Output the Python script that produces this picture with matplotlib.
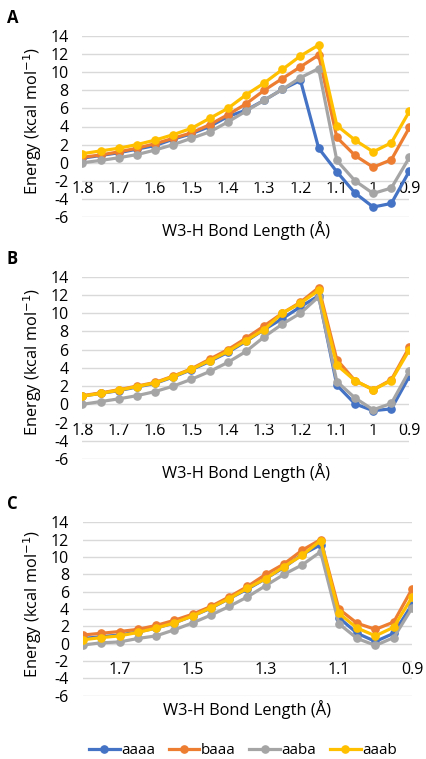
import matplotlib
matplotlib.use('Agg')
import matplotlib.pyplot as plt
import numpy as np

plt.rcParams['font.family'] = ['Open Sans', 'DejaVu Sans']

# bond length points (shared by all panels)
bond_len = [1.8, 1.75, 1.7, 1.65, 1.6, 1.55, 1.5, 1.45, 1.4, 1.35, 1.3, 1.25, 1.2,
            1.15, 1.1, 1.05, 1.0, 0.95, 0.9]

series_names = ['aaaa', 'baaa', 'aaba', 'aaab']
colors = ['#4472C4', '#ED7D31', '#A5A5A5', '#FFC000']

# panel A
a_aaaa = [0.5, 0.8, 1.1, 1.5, 1.9, 2.6, 3.2, 4.0, 5.1, 5.8, 6.9, 8.1, 9.1, 1.6, -1.0, -3.35, -4.9, -4.5, -0.9]
a_baaa = [0.6, 0.85, 1.2, 1.6, 2.1, 2.7, 3.3, 4.2, 5.3, 6.5, 8.0, 9.3, 10.6, 11.9, 2.8, 0.8, -0.5, 0.33, 3.9]
a_aaba = [0.0, 0.25, 0.55, 0.9, 1.4, 2.0, 2.7, 3.4, 4.5, 5.7, 6.9, 8.1, 9.4, 10.4, 0.25, -2.0, -3.4, -2.8, 0.6]
a_aaab = [1.0, 1.3, 1.6, 2.0, 2.5, 3.1, 3.8, 4.9, 6.0, 7.5, 8.8, 10.3, 11.8, 13.0, 4.1, 2.5, 1.2, 2.2, 5.7]

# panel B
b_aaaa = [0.9, 1.2, 1.5, 1.9, 2.3, 3.0, 3.8, 4.7, 5.7, 6.9, 8.2, 9.4, 10.7, 11.9, 2.1, 0.05, -0.7, -0.5, 3.1]
b_baaa = [0.95, 1.25, 1.6, 2.0, 2.4, 3.1, 3.9, 4.95, 6.0, 7.25, 8.6, 10.0, 11.2, 12.8, 4.9, 2.6, 1.6, 2.7, 6.3]
b_aaba = [0.0, 0.3, 0.6, 0.95, 1.4, 2.0, 2.75, 3.6, 4.6, 5.8, 7.4, 8.8, 10.0, 11.8, 2.5, 0.7, -0.6, 0.1, 3.7]
b_aaab = [0.9, 1.2, 1.55, 1.95, 2.35, 3.05, 3.85, 4.8, 5.8, 7.0, 8.2, 10.0, 11.1, 12.5, 4.3, 2.6, 1.6, 2.6, 6.0]

# panel C
c_aaaa = [0.6, 0.8, 1.0, 1.35, 1.8, 2.4, 3.2, 4.1, 5.2, 6.3, 7.5, 8.8, 10.3, 11.4, 3.0, 1.2, 0.25, 1.2, 4.5]
c_baaa = [1.0, 1.2, 1.4, 1.65, 2.1, 2.7, 3.4, 4.3, 5.4, 6.6, 8.0, 9.2, 10.8, 12.0, 4.0, 2.35, 1.65, 2.5, 6.3]
c_aaba = [-0.15, 0.1, 0.2, 0.6, 0.9, 1.6, 2.4, 3.3, 4.3, 5.4, 6.7, 8.0, 9.1, 10.6, 2.3, 0.6, -0.2, 0.7, 4.1]
c_aaab = [0.45, 0.7, 0.9, 1.3, 1.8, 2.4, 3.2, 4.15, 5.2, 6.4, 7.5, 8.9, 10.2, 11.9, 3.5, 1.8, 0.9, 1.9, 5.35]

ab_ticks = [1.8, 1.7, 1.6, 1.5, 1.4, 1.3, 1.2, 1.1, 1.0, 0.9]
ab_ticklabels = ['1.8', '1.7', '1.6', '1.5', '1.4', '1.3', '1.2', '1.1', '1', '0.9']
c_ticks = [1.7, 1.5, 1.3, 1.1, 0.9]
c_ticklabels = ['1.7', '1.5', '1.3', '1.1', '0.9']
y_ticks = list(range(-6, 15, 2))

W, H = 427, 759
fig = plt.figure(figsize=(W / 100, H / 100), dpi=100)

# axes boxes in pixels: left, right, top(14), bottom(-6)
boxes = [(82.5, 409.5, 36, 217), (82.5, 409.5, 276.7, 459), (83, 412, 522.3, 695.7)]
panels = [
    ('A', [a_aaaa, a_baaa, a_aaba, a_aaab], ab_ticks, ab_ticklabels),
    ('B', [b_aaaa, b_baaa, b_aaba, b_aaab], ab_ticks, ab_ticklabels),
    ('C', [c_aaaa, c_baaa, c_aaba, c_aaab], c_ticks, c_ticklabels),
]

for (l, r, t, b), (letter, data, xt, xtl) in zip(boxes, panels):
    ax = fig.add_axes([l / W, 1 - b / H, (r - l) / W, (b - t) / H])
    for vals, name, col in zip(data, series_names, colors):
        ax.plot(bond_len, vals, color=col, lw=2.3, marker='o', ms=5.2,
                label=name, solid_joinstyle='round', zorder=3)
    ax.set_xlim(1.8, 0.9)
    ax.set_ylim(-6, 14)
    ax.set_yticks(y_ticks)
    ax.set_yticklabels([str(v) for v in y_ticks])
    ax.set_xticks(xt)
    ax.set_xticklabels(xtl)
    ax.grid(axis='y', color='#D9D9D9', lw=1.0, zorder=0)
    for s in ax.spines.values():
        s.set_visible(False)
    ax.spines['bottom'].set_position(('data', -2))
    ax.tick_params(axis='both', length=0, labelsize=11.5, colors='#000000')
    ax.tick_params(axis='y', pad=10)
    ax.tick_params(axis='x', pad=0.5)
    h = b - t
    ax.text(0.5, -(13.5 / h), 'W3-H Bond Length (Å)', transform=ax.transAxes,
            ha='center', va='center', fontsize=11.8)
    ax.text(-(l - 33) / (r - l), 0.53, 'Energy (kcal mol$^{-1}$)', transform=ax.transAxes,
            rotation=90, ha='center', va='center', fontsize=11.8)
    fig.text(7 / W, 1 - (t - 18) / H, letter, fontsize=12, fontweight='bold',
             ha='left', va='center')

handles, labels = ax.get_legend_handles_labels()
fig.legend(handles, labels, loc='center', bbox_to_anchor=(243 / W, 1 - 751 / H), ncol=4,
           frameon=False, fontsize=11, handlelength=2.0, handletextpad=0.1,
           columnspacing=0.9, borderaxespad=0)

fig.savefig('out.png', dpi=100)
